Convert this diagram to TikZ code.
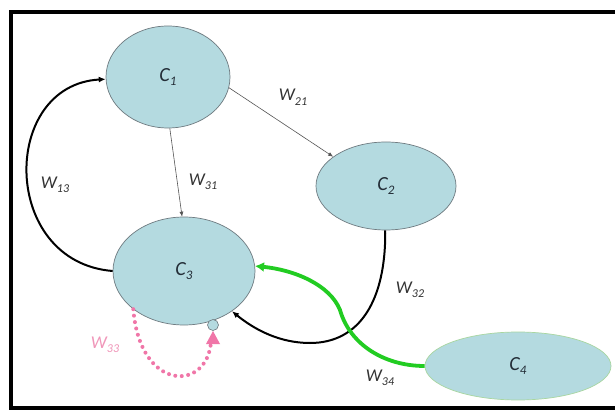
\documentclass[tikz,border=0pt]{standalone}
\usepackage{fontspec}
\setmainfont{Carlito}
\usetikzlibrary{shapes.geometric,arrows.meta}

\definecolor{cellfill}{RGB}{180,218,224}
\definecolor{celledge}{RGB}{110,122,128}
\definecolor{celledgegreen}{RGB}{168,214,160}
\definecolor{linkgreen}{RGB}{34,204,34}
\definecolor{linkpink}{RGB}{240,118,168}
\definecolor{labelpink}{RGB}{240,150,185}
\definecolor{labelgray}{RGB}{50,50,50}
\definecolor{textdark}{RGB}{35,45,55}
\definecolor{thingray}{RGB}{85,85,85}

\newcommand{\cname}[1]{C\raisebox{-0.22em}{\fontsize{13}{13}\selectfont #1}}
\newcommand{\wname}[1]{W\raisebox{-0.25em}{\fontsize{12}{12}\selectfont #1}}

\tikzset{
  cell/.style={ellipse, draw=celledge, line width=0.7pt, fill=cellfill,
    inner sep=0pt, text=textdark, font=\fontsize{20}{22}\selectfont\itshape},
  weight/.style={text=labelgray, font=\fontsize{18}{20}\selectfont\itshape, inner sep=1pt},
  thinlink/.style={draw=thingray, line width=0.6pt, -{Latex[length=5pt,width=4pt]}},
  thicklink/.style={draw=black, line width=2pt, -{Latex[length=7pt,width=6pt]}},
  greenlink/.style={draw=linkgreen, line width=3.8pt, -{Latex[length=9pt,width=10pt]}},
  selflink/.style={draw=linkpink, line width=4pt, line cap=round, dash pattern=on 0pt off 6.5pt},
}

\begin{document}
\begin{tikzpicture}[x=1pt,y=-1pt]
  \useasboundingbox (0,0) rectangle (615,411);
  \fill[white] (0,0) rectangle (615,411);

  % outer frame (open on the right)
  \draw[black, line width=3.5pt] (630,12) -- (11,12) -- (11,408) -- (630,408);

  % cells
  \node[cell, minimum width=124pt, minimum height=102pt] (c1) at (168,77) {\cname{1}};
  \node[cell, minimum width=140pt, minimum height=88pt]  (c2) at (386,186) {\cname{2}};
  \node[cell, minimum width=142pt, minimum height=108pt] (c3) at (184,271) {\cname{3}};
  \node[cell, draw=celledgegreen, minimum width=186pt, minimum height=68pt] (c4) at (518,366) {\cname{4}};

  % small marker at the self-loop target
  \node[circle, draw=celledge, fill=cellfill, line width=0.6pt, minimum size=11pt, inner sep=0pt] (dot) at (213,325) {};

  % thin links
  \draw[thinlink] (c1.-10) -- (c2.151);
  \draw[thinlink] (c1.-88) -- (c3.92);

  % thick black links
  \draw[thicklink] (c3.180) .. controls (0,262) and (0,85) .. (c1.182);
  \draw[thicklink] (c2.-91) .. controls (386,300) and (360,343) .. (310,343)
                   .. controls (280,343) and (255,330) .. (c3.-40);

  % green link from C4
  \draw[greenlink] (c4.180) .. controls (385,366) and (350,345) .. (340,310)
                   .. controls (330,285) and (295,270) .. (c3.4);

  % dotted self link
  \draw[selflink] (c3.217) .. controls (140,392) and (207,392) .. (211,342);
  \fill[linkpink] (213,331) -- (206,344) -- (220,344) -- cycle;

  % weights
  \node[weight] (w21) at (293,97) {\wname{21}};
  \node[weight] (w31) at (203,182) {\wname{31}};
  \node[weight] (w13) at (55,185) {\wname{13}};
  \node[weight] (w32) at (410,290) {\wname{32}};
  \node[weight] (w34) at (380,378) {\wname{34}};
  \node[weight, text=labelpink] (w33) at (105,345) {\wname{33}};
\end{tikzpicture}
\end{document}
